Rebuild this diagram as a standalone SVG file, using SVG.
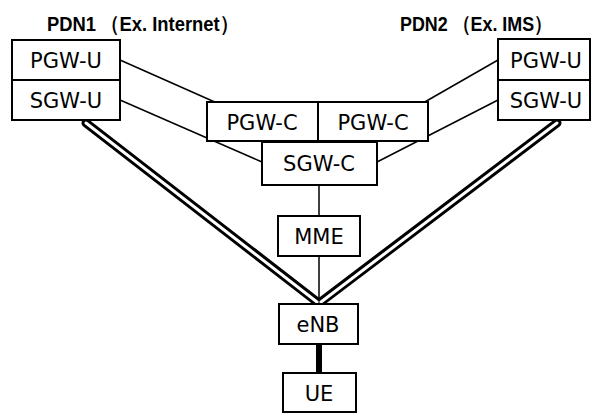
<svg xmlns="http://www.w3.org/2000/svg" width="595" height="414" viewBox="0 0 595 414">
<style>
.box{fill:#fff;stroke:#000;stroke-width:2}
.lbl{font-family:"DejaVu Sans",Verdana,sans-serif;font-size:21px;fill:#000;text-anchor:middle}
.ttl{font-family:"Liberation Sans",Arial,sans-serif;font-weight:bold;font-size:21px;fill:#000}
.thin{stroke:#000;stroke-width:1.5;fill:none}
.dblo{stroke:#000;stroke-width:9;stroke-linecap:round;fill:none}
.dbli{stroke:#fff;stroke-width:3;stroke-linecap:round;fill:none}
</style>
<rect width="595" height="414" fill="#fff"/>
<text class="ttl" x="47" y="31" textLength="191" lengthAdjust="spacingAndGlyphs">PDN1 （Ex. Internet）</text>
<text class="ttl" x="400" y="31" textLength="152" lengthAdjust="spacingAndGlyphs">PDN2 （Ex. IMS）</text>
<g id="connectors">
<line class="thin" x1="120" y1="60" x2="217" y2="103"/>
<line class="thin" x1="120" y1="100" x2="262" y2="162"/>
<line class="thin" x1="498" y1="60" x2="423" y2="103"/>
<line class="thin" x1="498" y1="100" x2="377" y2="162"/>
<line class="thin" x1="319" y1="185" x2="319" y2="216"/>
<line class="thin" x1="319" y1="256" x2="319" y2="304"/>
<line stroke="#000" stroke-width="6" x1="319" y1="344" x2="319" y2="373"/>
<line class="dblo" x1="86" y1="123" x2="316" y2="301"/>
<line class="dblo" x1="557" y1="123" x2="322" y2="301"/>
<line class="dbli" x1="86" y1="123" x2="317" y2="302"/>
<line class="dbli" x1="557" y1="123" x2="321" y2="302"/>
</g>
<g id="pgwu1"><rect class="box" x="12" y="40" width="108" height="40"/><text class="lbl" x="66" y="68">PGW-U</text></g>
<g id="sgwu1"><rect class="box" x="12" y="80" width="108" height="40"/><text class="lbl" x="66" y="108">SGW-U</text></g>
<g id="pgwu2"><rect class="box" x="498" y="39" width="92" height="41"/><text class="lbl" x="546" y="68">PGW-U</text></g>
<g id="sgwu2"><rect class="box" x="498" y="80" width="92" height="40"/><text class="lbl" x="546" y="108">SGW-U</text></g>
<g id="pgwc1"><rect class="box" x="207" y="102" width="111" height="39"/><text class="lbl" x="262" y="130">PGW-C</text></g>
<g id="pgwc2"><rect class="box" x="318" y="102" width="110" height="39"/><text class="lbl" x="373" y="130">PGW-C</text></g>
<g id="sgwc"><rect class="box" x="262" y="142" width="115" height="43"/><text class="lbl" x="319" y="171">SGW-C</text></g>
<g id="mme"><rect class="box" x="278" y="216" width="82" height="40"/><text class="lbl" x="319" y="244">MME</text></g>
<g id="enb"><rect class="box" x="279" y="304" width="79" height="40"/><text class="lbl" x="318" y="332">eNB</text></g>
<g id="ue"><rect class="box" x="283" y="373" width="73" height="39"/><text class="lbl" x="319" y="401">UE</text></g>
</svg>
